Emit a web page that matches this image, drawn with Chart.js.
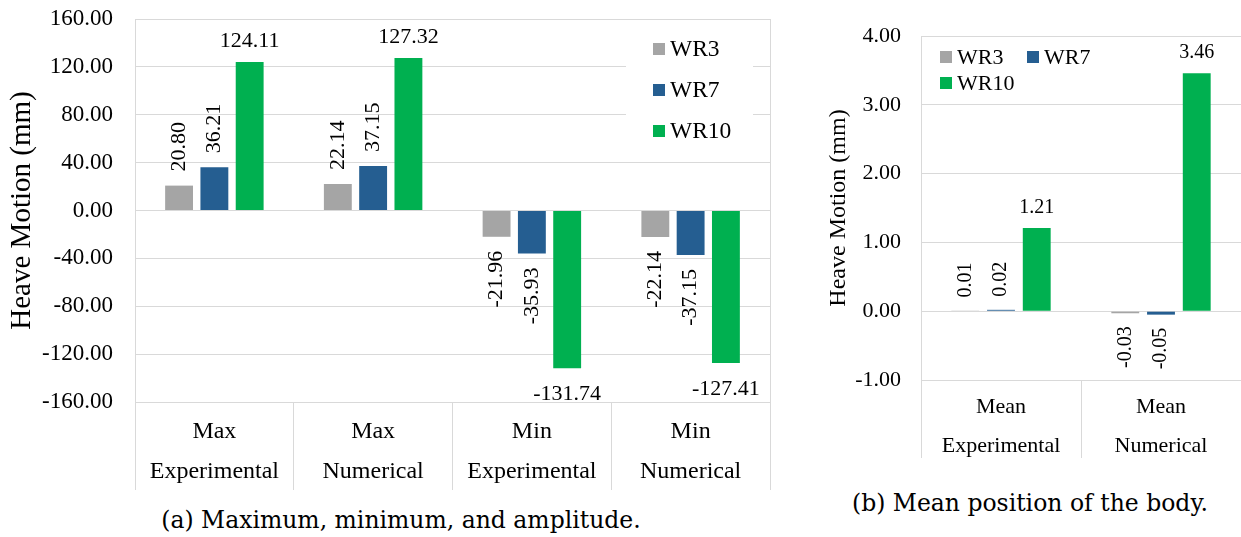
<!DOCTYPE html>
<html>
<head>
<meta charset="utf-8">
<script src="https://cdn.jsdelivr.net/npm/chart.js@4.4.1/dist/chart.umd.min.js"></script>
<style>
  body { margin: 0; background: #fff; width: 1241px; height: 537px; overflow: hidden; position: relative; }
  canvas { position: absolute; }
  #chartA { left: 0; top: 0; }
  #chartB { left: 800px; top: 0; }
  .caption { position: absolute; font-family: "DejaVu Serif", serif; font-size: 23.5px; color: #000; white-space: nowrap; transform: translate(-50%, -50%); }
</style>
</head>
<body>
<canvas id="chartA" width="790" height="500"></canvas>
<canvas id="chartB" width="441" height="470"></canvas>
<div class="caption" style="left:401px;top:520px">(a) Maximum, minimum, and amplitude.</div>
<div class="caption" style="left:1030px;top:503px">(b) Mean position of the body.</div>
<script>
// categories
const rangeCategories = [['Max', 'Experimental'], ['Max', 'Numerical'], ['Min', 'Experimental'], ['Min', 'Numerical']];
const meanCategories = [['Mean', 'Experimental'], ['Mean', 'Numerical']];
const seriesNames = ['WR3', 'WR7', 'WR10'];
const seriesColors = ['#A5A5A5', '#255E91', '#00B050'];

// heave motion values (mm)
const rangeWR3 = [20.80, 22.14, -21.96, -22.14];
const rangeWR7 = [36.21, 37.15, -35.93, -37.15];
const rangeWR10 = [124.11, 127.32, -131.74, -127.41];
const meanWR3 = [0.01, -0.03];
const meanWR7 = [0.02, -0.05];
const meanWR10 = [1.21, 3.46];

// value axes
const rangeAxis = { min: -160, max: 160, step: 40 };
const meanAxis = { min: -1, max: 4, step: 1 };

const SERIF = '"Liberation Serif", "Times New Roman", serif';
const GRID = '#d9d9d9';

// bar value labels (no datalabels plugin available)
const valueLabels = {
    id: 'valueLabels',
    afterDatasetsDraw(chart, args, opts) {
        const ctx = chart.ctx;
        ctx.save();
        ctx.font = opts.size + 'px ' + SERIF;
        ctx.fillStyle = '#000';
        ctx.textBaseline = 'middle';
        chart.data.datasets.forEach((ds, i) => {
            const meta = chart.getDatasetMeta(i);
            meta.data.forEach((bar, j) => {
                const v = ds.data[j];
                const text = v.toFixed(2);
                const up = v >= 0;
                if (opts.vertical.includes(i)) {
                    ctx.save();
                    ctx.translate(bar.x, up ? bar.y - opts.gap : bar.y + opts.gap);
                    ctx.rotate(-Math.PI / 2);
                    ctx.textAlign = up ? 'left' : 'right';
                    ctx.fillText(text, 0, 0);
                    ctx.restore();
                } else {
                    ctx.textAlign = 'center';
                    ctx.fillText(text, bar.x, up ? bar.y - opts.liftUp : bar.y + opts.liftDown);
                }
            });
        });
        ctx.restore();
    }
};

// legend drawn inside the plot area
const boxLegend = {
    id: 'boxLegend',
    afterDraw(chart, args, opts) {
        const ctx = chart.ctx;
        ctx.save();
        if (opts.background) {
            const b = opts.background;
            ctx.fillStyle = '#fff';
            ctx.fillRect(b[0], b[1], b[2], b[3]);
        }
        ctx.font = opts.size + 'px ' + SERIF;
        ctx.textBaseline = 'middle';
        ctx.textAlign = 'left';
        chart.data.datasets.forEach((ds, i) => {
            const [x, y] = opts.slots[i];
            ctx.fillStyle = ds.backgroundColor;
            ctx.fillRect(x, y - 6, 12, 12);
            ctx.fillStyle = '#000';
            ctx.fillText(ds.label, x + 17, y + 1);
        });
        ctx.restore();
    }
};

// right edge of the plot frame
const plotFrame = {
    id: 'plotFrame',
    beforeDatasetsDraw(chart, args, opts) {
        if (!opts.right) return;
        const a = chart.chartArea;
        const ctx = chart.ctx;
        ctx.save();
        ctx.strokeStyle = GRID;
        ctx.lineWidth = 1;
        ctx.beginPath();
        ctx.moveTo(Math.round(a.right) + 0.5, a.top);
        ctx.lineTo(Math.round(a.right) + 0.5, a.bottom);
        ctx.stroke();
        ctx.restore();
    }
};

function makeDatasets(values, cp, bp) {
    return values.map((data, i) => ({
        label: seriesNames[i],
        data: data,
        backgroundColor: seriesColors[i],
        borderWidth: 0,
        categoryPercentage: cp,
        barPercentage: bp
    }));
}

function makeChart(id, cfg) {
    return new Chart(document.getElementById(id), {
        type: 'bar',
        data: {
            labels: cfg.labels,
            datasets: makeDatasets(cfg.values, cfg.cp, cfg.bp)
        },
        plugins: [plotFrame, valueLabels, boxLegend],
        options: {
            responsive: false,
            animation: false,
            layout: { padding: cfg.padding },
            plugins: {
                legend: { display: false },
                tooltip: { enabled: false },
                plotFrame: { right: cfg.frameRight },
                valueLabels: cfg.labelOpts,
                boxLegend: cfg.legendOpts
            },
            scales: {
                x: {
                    grid: { color: GRID, drawOnChartArea: false, tickLength: cfg.catHeight, offset: true },
                    border: { display: true, color: GRID },
                    ticks: {
                        color: '#000',
                        padding: cfg.catPad - cfg.catHeight,
                        maxRotation: 0,
                        autoSkip: false,
                        font: { family: SERIF, size: cfg.catSize, lineHeight: cfg.catLine + 'px' }
                    },
                    afterFit(scale) { scale.height = cfg.catHeight; }
                },
                y: {
                    min: cfg.axis.min,
                    max: cfg.axis.max,
                    grid: { color: GRID, drawTicks: false },
                    border: { display: true, color: GRID },
                    ticks: {
                        stepSize: cfg.axis.step,
                        padding: cfg.tickPad,
                        color: '#000',
                        font: { family: SERIF, size: cfg.tickSize },
                        callback: v => v.toFixed(2)
                    },
                    title: {
                        display: true,
                        text: 'Heave Motion (mm)',
                        color: '#000',
                        font: { family: SERIF, size: cfg.titleSize, lineHeight: 1.2 },
                        padding: { top: cfg.titlePad, bottom: 0 }
                    },
                    afterFit(scale) {
                        scale.width = cfg.axisWidth;
                        scale.paddingTop = 0;
                        scale.paddingBottom = 0;
                    }
                }
            }
        }
    });
}

makeChart('chartA', {
    labels: rangeCategories,
    values: [rangeWR3, rangeWR7, rangeWR10],
    axis: rangeAxis,
    cp: 0.667, bp: 0.79,
    padding: { top: 19, right: 20, left: 0, bottom: 10 },
    frameRight: true,
    axisWidth: 135, tickPad: 22, tickSize: 23,
    titleSize: 29, titlePad: 5,
    catHeight: 88, catPad: 10, catLine: 40, catSize: 24,
    labelOpts: { size: 22, vertical: [0, 1], gap: 14, liftUp: 21, liftDown: 26 },
    legendOpts: { size: 23.5, slots: [[653, 49], [653, 90], [653, 131]], background: [626, 32, 127, 116] }
});

makeChart('chartB', {
    labels: meanCategories,
    values: [meanWR3, meanWR7, meanWR10],
    axis: meanAxis,
    cp: 0.67, bp: 0.78,
    padding: { top: 36, right: 0, left: 0, bottom: 12 },
    frameRight: false,
    axisWidth: 121, tickPad: 20, tickSize: 22,
    titleSize: 24, titlePad: 24,
    catHeight: 78, catPad: 8, catLine: 39, catSize: 22,
    labelOpts: { size: 20, vertical: [0, 1], gap: 13, liftUp: 20, liftDown: 22 },
    legendOpts: { size: 22, slots: [[140, 57], [227, 57], [140, 83]] }
});
</script>
</body>
</html>
